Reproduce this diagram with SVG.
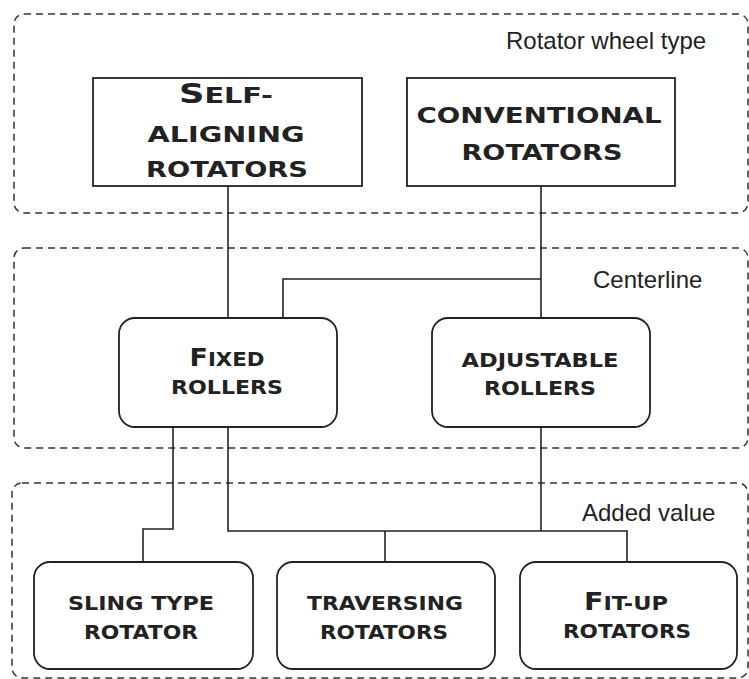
<svg xmlns="http://www.w3.org/2000/svg" width="749" height="679" viewBox="0 0 749 679">
<style>
.grp{fill:none;stroke:#333;stroke-width:1.5;stroke-dasharray:7 5}
.lbl{font-family:"Liberation Sans",Arial,sans-serif;font-size:24px;fill:#222}
.box{fill:#fff;stroke:#222;stroke-width:1.8}
.t1{font-family:"DejaVu Sans","Liberation Sans",sans-serif;font-weight:bold;font-size:22px;fill:#222;text-anchor:middle}
.t2{font-family:"DejaVu Sans","Liberation Sans",sans-serif;font-weight:bold;font-size:19px;fill:#222;text-anchor:middle}
.big1{font-size:27px}
.big2{font-size:24px}
.con{fill:none;stroke:#222;stroke-width:1.6}
</style>
<rect width="749" height="679" fill="#fff"/>
<g id="groups">
<rect class="grp" x="14" y="14" width="734" height="199" rx="10"/>
<rect class="grp" x="14" y="248" width="734" height="200" rx="10"/>
<rect class="grp" x="12" y="483" width="736" height="195" rx="10"/>
<text class="lbl" x="506" y="49">Rotator wheel type</text>
<text class="lbl" x="593" y="288">Centerline</text>
<text class="lbl" x="582" y="521">Added value</text>
</g>
<g id="connectors">
<path class="con" d="M228 186V318"/>
<path class="con" d="M541 186V318"/>
<path class="con" d="M541 279H283V318"/>
<path class="con" d="M173 427V529H143V562"/>
<path class="con" d="M228 427V531H627V562"/>
<path class="con" d="M541 427V531"/>
<path class="con" d="M385 531V562"/>
</g>
<g id="self-aligning">
<rect class="box" x="93" y="78" width="269" height="108"/>
<text class="t1" x="226" y="103" textLength="94" lengthAdjust="spacingAndGlyphs"><tspan class="big1">S</tspan>ELF-</text>
<text class="t1" x="226" y="142" textLength="157" lengthAdjust="spacingAndGlyphs">ALIGNING</text>
<text class="t1" x="227" y="177" textLength="162" lengthAdjust="spacingAndGlyphs">ROTATORS</text>
</g>
<g id="conventional">
<rect class="box" x="407" y="78" width="268" height="108"/>
<text class="t1" x="539" y="123" textLength="245" lengthAdjust="spacingAndGlyphs">CONVENTIONAL</text>
<text class="t1" x="542" y="160" textLength="161" lengthAdjust="spacingAndGlyphs">ROTATORS</text>
</g>
<g id="fixed">
<rect class="box" x="119" y="318" width="218" height="109" rx="16"/>
<text class="t2" x="227" y="366" textLength="75" lengthAdjust="spacingAndGlyphs"><tspan class="big2">F</tspan>IXED</text>
<text class="t2" x="227" y="394" textLength="112" lengthAdjust="spacingAndGlyphs">ROLLERS</text>
</g>
<g id="adjustable">
<rect class="box" x="432" y="318" width="218" height="109" rx="16"/>
<text class="t2" x="540" y="367" textLength="157" lengthAdjust="spacingAndGlyphs">ADJUSTABLE</text>
<text class="t2" x="540" y="395" textLength="112" lengthAdjust="spacingAndGlyphs">ROLLERS</text>
</g>
<g id="sling">
<rect class="box" x="34" y="562" width="219" height="107" rx="16"/>
<text class="t2" x="141" y="610" textLength="146" lengthAdjust="spacingAndGlyphs">SLING TYPE</text>
<text class="t2" x="141" y="639" textLength="114" lengthAdjust="spacingAndGlyphs">ROTATOR</text>
</g>
<g id="traversing">
<rect class="box" x="277" y="562" width="218" height="107" rx="16"/>
<text class="t2" x="385" y="610" textLength="156" lengthAdjust="spacingAndGlyphs">TRAVERSING</text>
<text class="t2" x="384" y="639" textLength="128" lengthAdjust="spacingAndGlyphs">ROTATORS</text>
</g>
<g id="fitup">
<rect class="box" x="520" y="562" width="217" height="107" rx="16"/>
<text class="t2" x="626" y="610" textLength="84" lengthAdjust="spacingAndGlyphs"><tspan class="big2">F</tspan>IT-UP</text>
<text class="t2" x="627" y="638" textLength="128" lengthAdjust="spacingAndGlyphs">ROTATORS</text>
</g>
</svg>
